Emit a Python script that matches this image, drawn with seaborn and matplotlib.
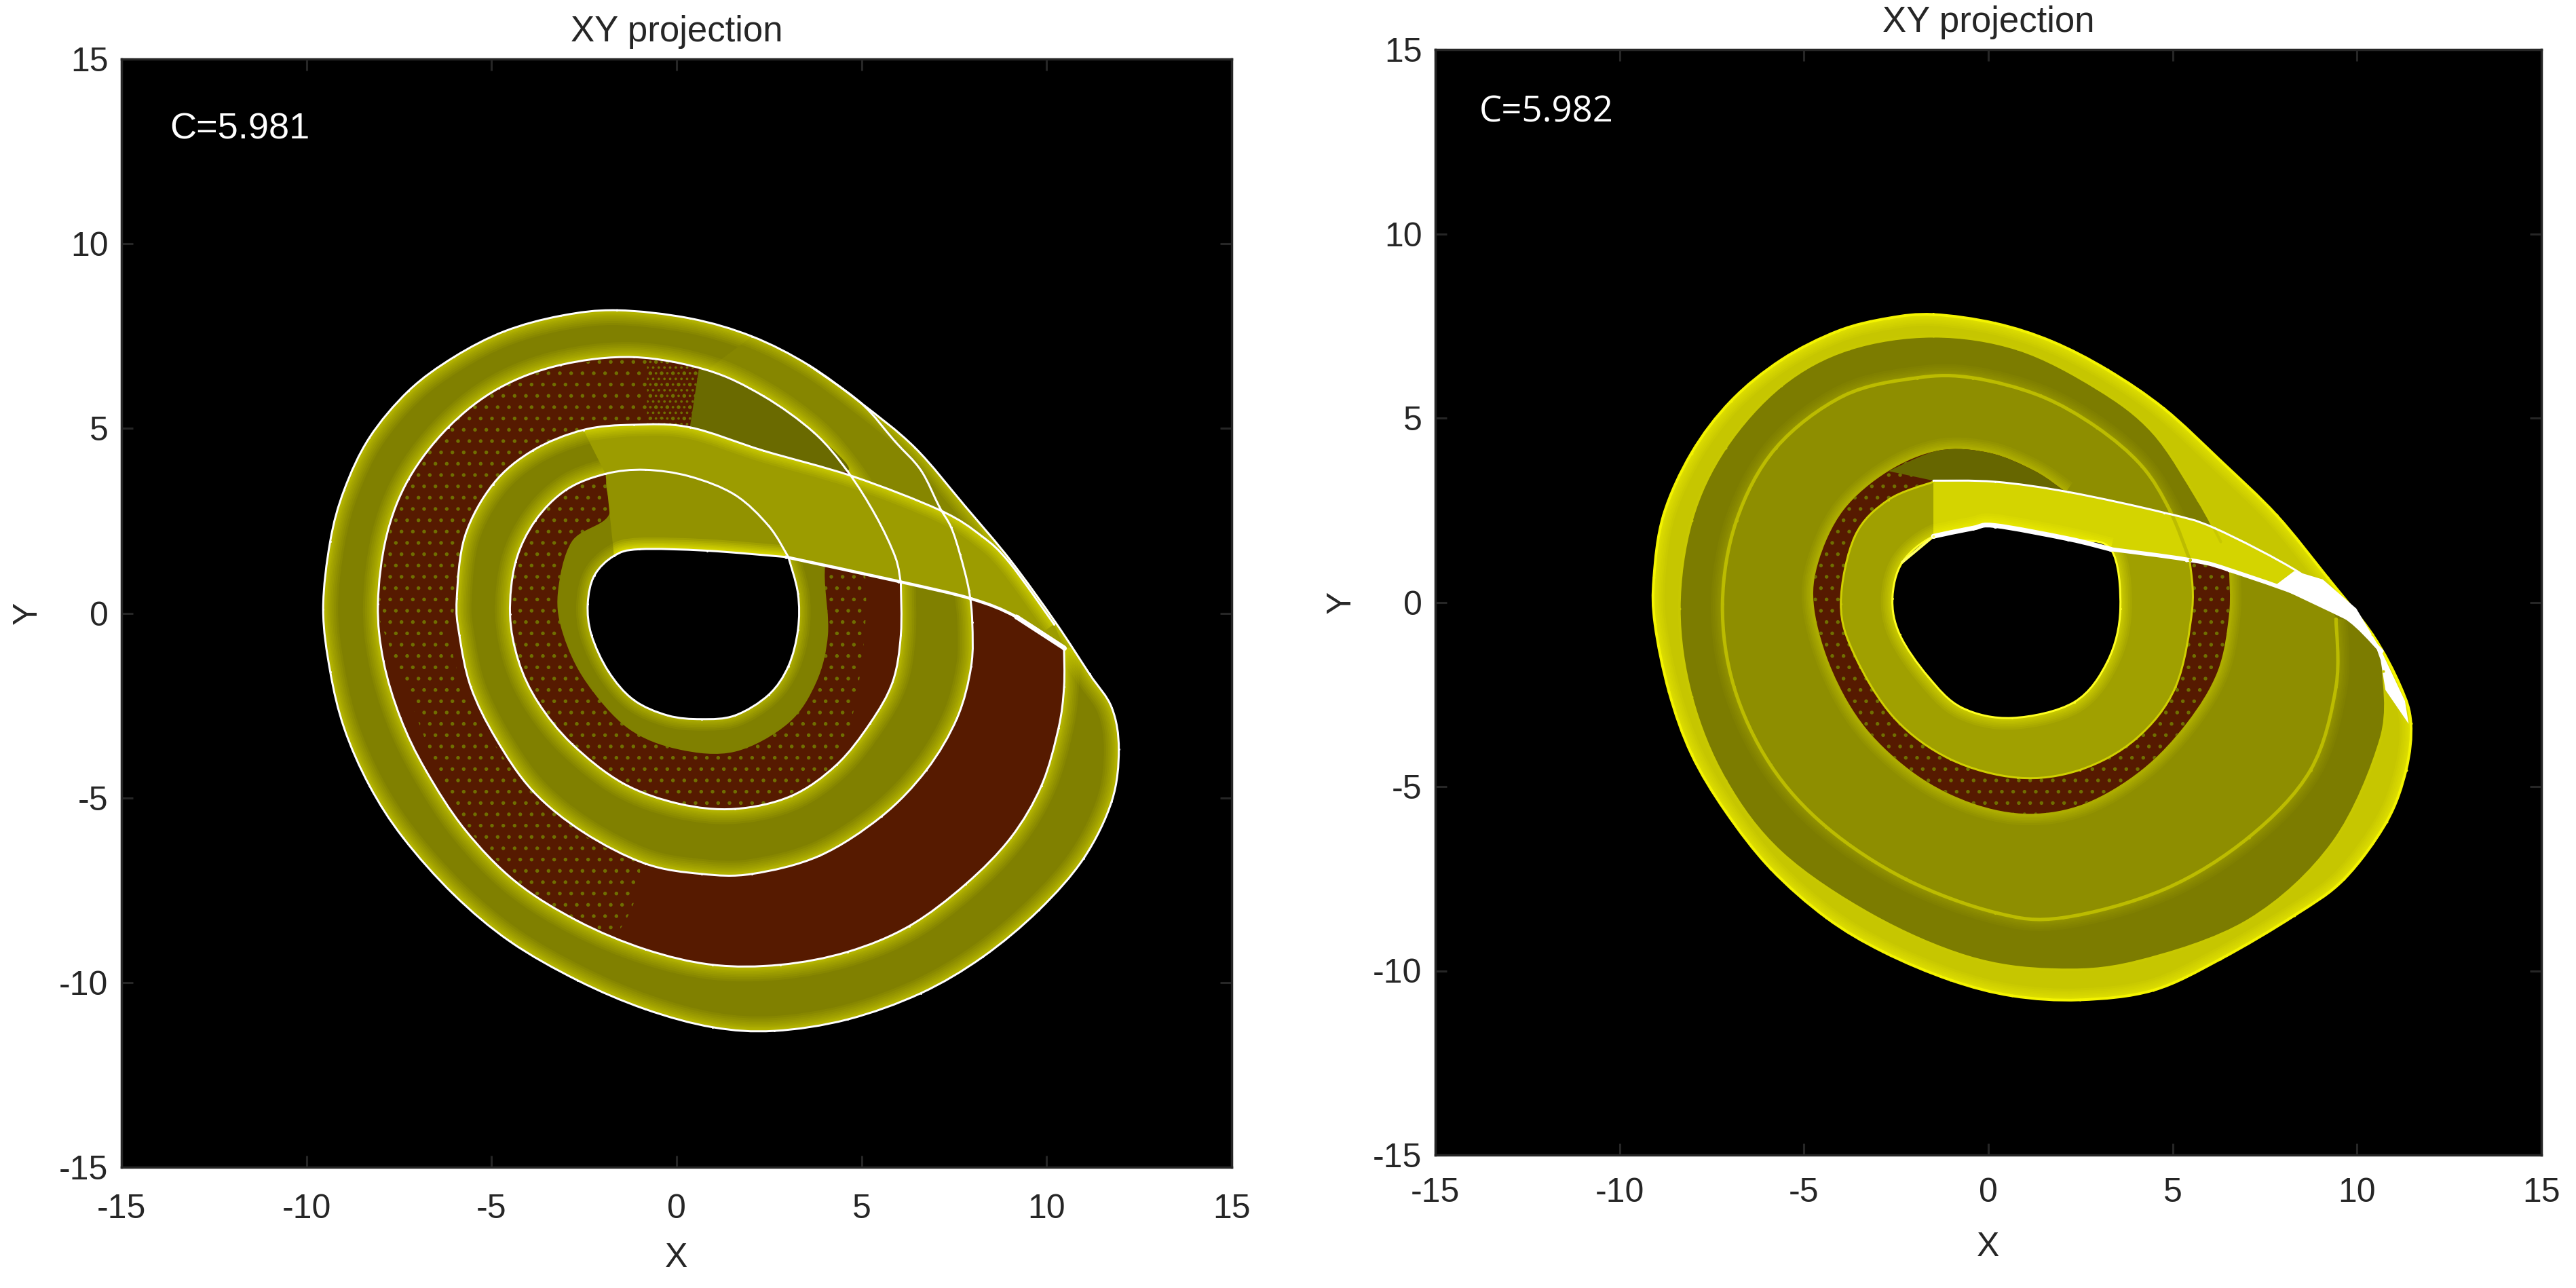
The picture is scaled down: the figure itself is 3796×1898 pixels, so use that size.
import matplotlib
matplotlib.use("Agg")
import matplotlib.pyplot as plt
from matplotlib.patches import PathPatch
from matplotlib.path import Path
import numpy as np
import seaborn as sns

ticks = [-15, -10, -5, 0, 5, 10, 15]

# left panel, C=5.981: edges of the folded band
left_outer_x = [-1.61, 0.36, 2.04, 3.56, 4.97, 6.44, 7.81, 9.03, 10.24, 11.16, 11.76, 11.95, 11.76, 11.00, 9.79, 8.27, 6.60, 4.62, 2.64, 0.97, -0.85, -2.68, -4.50, -6.02, -7.39, -8.30, -8.98, -9.36, -9.55, -9.36, -8.98, -8.30, -7.24, -6.02, -4.65, -3.13, -1.61]
left_outer_y = [8.20, 7.98, 7.49, 6.72, 5.70, 4.48, 2.88, 1.42, -0.25, -1.65, -2.56, -3.69, -5.09, -6.64, -8.04, -9.31, -10.29, -11.00, -11.31, -11.21, -10.72, -9.94, -8.89, -7.62, -6.08, -4.67, -3.12, -1.58, 0.11, 1.94, 3.34, 4.75, 6.02, 6.93, 7.63, 8.05, 8.20]
left_c1_x = [10.47, 10.47, 10.32, 9.86, 9.03, 7.81, 6.29, 4.62, 2.80, 0.97, -0.85, -2.68, -4.35, -5.72, -6.78, -7.46, -7.92, -8.07, -7.84, -7.24, -6.17, -4.80, -3.13, -1.16, 0.82, 2.34, 3.71, 4.62, 5.38, 5.91, 6.06]
left_c1_y = [-0.94, -2.00, -3.12, -4.67, -6.08, -7.34, -8.47, -9.17, -9.52, -9.52, -9.10, -8.33, -7.27, -5.86, -4.25, -2.84, -1.30, 0.25, 2.08, 3.63, 5.03, 6.09, 6.72, 6.93, 6.58, 5.88, 4.89, 3.84, 2.64, 1.52, 0.81]
left_c2_x = [3.56, 4.97, 5.90, 6.60, 7.10, 7.42, 7.66, 7.90, 7.99, 7.96, 7.58, 6.75, 5.53, 3.86, 2.04, 0.67, -0.85, -2.52, -3.89, -4.88, -5.56, -5.87, -5.94, -5.72, -4.96, -3.89, -2.52, -1.16, 0.36, 2.34, 4.77, 7.13, 8.24, 9.00, 10.20]
left_c2_y = [6.72, 5.70, 4.65, 3.87, 2.88, 2.32, 1.59, 0.62, -0.25, -1.44, -2.84, -4.25, -5.51, -6.57, -7.06, -7.06, -6.78, -5.93, -4.81, -3.40, -2.00, -0.59, 0.39, 2.08, 3.49, 4.40, 4.96, 5.10, 5.03, 4.40, 3.70, 2.78, 2.09, 1.36, -0.30]
left_c3_x = [6.06, 6.06, 5.84, 5.23, 4.32, 3.10, 1.58, 0.06, -1.46, -2.83, -3.74, -4.27, -4.50, -4.35, -3.82, -2.98, -1.92, -0.85, 0.36, 1.58, 2.49, 3.02]
left_c3_y = [0.81, -0.59, -1.86, -2.98, -4.11, -4.95, -5.30, -5.16, -4.60, -3.54, -2.42, -1.30, -0.03, 1.38, 2.50, 3.34, 3.77, 3.88, 3.70, 3.20, 2.36, 1.52]
left_c4_x = [3.02, 3.28, 3.28, 3.02, 2.49, 1.58, 0.67, -0.24, -1.16, -1.84, -2.30, -2.40, -2.22, -1.69, -1.00, 0.82, 2.95]
left_c4_y = [1.52, 0.53, -0.45, -1.44, -2.21, -2.77, -2.87, -2.77, -2.35, -1.58, -0.59, 0.25, 1.02, 1.55, 1.73, 1.69, 1.52]
left_fold_x = [2.95, 5.99, 7.96, 9.18, 10.47]
left_fold_y = [1.52, 0.86, 0.39, -0.10, -0.94]
left_inner_x = [4.01, 4.01, 4.09, 3.78, 3.02, 1.58, 0.06, -1.31, -2.45, -3.06, -3.21, -2.83, -1.84, -1.76, 0.36, 1.58, 2.49, 3.02]
left_inner_y = [1.29, 0.81, -0.59, -1.86, -2.98, -3.75, -3.69, -3.12, -1.86, -0.59, 0.53, 1.94, 2.64, 3.77, 3.70, 3.20, 2.36, 1.52]
left_speck_x = [-8.1, -7.3, -4.8, -1.0, 0.6, 0.6, -1.2, -5.9, -5.0, -2.5, -1.0, -1.8, -3.5, -6.0]
left_speck_y = [0.0, 3.6, 6.1, 7.0, 6.7, 4.9, 5.0, 0.4, -3.4, -6.0, -6.9, -8.8, -8.0, -5.5]
left_fade_x = [-0.8, 0.6, 0.6, -0.8]
left_fade_y = [7.1, 6.9, 4.9, 5.0]
left_speck4_x = [-5.0, -5.0, -1.0, 3.0, 4.7, 5.0, 3.0, -1.9]
left_speck4_y = [4.0, -4.0, -6.0, -6.0, -3.0, 1.5, 1.5, 3.9]
left_wedge_x = [2.04, 3.56, 4.97, 6.44, 7.81, 8.24, 7.13, 4.77, 4.62, 3.71, 2.34, 0.82]
left_wedge_y = [7.49, 6.72, 5.70, 4.48, 2.88, 2.09, 2.78, 3.70, 3.84, 4.89, 5.88, 6.58]
left_dark_x = [0.6, 0.82, 2.34, 3.71, 4.62, 2.34, 0.36]
left_dark_y = [6.6, 6.58, 5.88, 4.89, 3.84, 4.40, 5.03]

# right panel, C=5.982
right_outer_x = [-1.49, 0.19, 1.72, 3.24, 4.77, 6.30, 7.82, 9.20, 10.42, 11.18, 11.46, 11.33, 10.80, 9.65, 8.30, 6.30, 4.47, 2.48, 0.65, -1.03, -2.86, -4.39, -5.91, -7.13, -8.05, -8.66, -9.04, -9.07, -8.81, -8.05, -6.98, -5.61, -4.08, -2.71, -1.49]
right_outer_y = [7.81, 7.57, 7.08, 6.30, 5.25, 3.84, 2.36, 0.67, -0.88, -2.29, -3.28, -4.55, -5.96, -7.51, -8.50, -9.68, -10.53, -10.79, -10.68, -10.25, -9.48, -8.56, -7.22, -5.67, -4.12, -2.43, -0.60, 0.67, 2.36, 4.05, 5.46, 6.58, 7.36, 7.71, 7.81]
right_r1_x = [10.72, 10.65, 9.35, 7.06, 4.01, 1.72, -0.57, -3.16, -5.61, -7.13, -8.05, -8.38, -8.05, -7.13, -5.61, -3.78, -1.49, 0.80, 2.94, 4.47, 5.69, 6.30]
right_r1_y = [-1.87, -3.70, -6.52, -8.63, -9.76, -9.97, -9.62, -8.49, -6.80, -4.83, -2.57, -0.18, 2.22, 4.19, 5.88, 6.87, 7.22, 6.87, 5.81, 4.61, 2.78, 1.65]
right_r2_x = [9.43, 9.43, 8.74, 7.06, 4.77, 2.02, 0.19, -2.25, -4.39, -5.91, -6.90, -7.21, -6.83, -5.76, -3.93, -1.94, -0.42, 1.41, 2.94, 4.16, 4.92, 5.46]
right_r2_y = [-0.46, -2.29, -4.55, -6.38, -7.79, -8.56, -8.42, -7.51, -6.10, -4.41, -2.29, -0.04, 2.22, 4.19, 5.60, 6.09, 6.09, 5.60, 4.75, 3.70, 2.50, 1.16]
right_red_x = [6.53, 6.53, 6.22, 5.38, 4.16, 2.63, 1.11, -0.42, -1.94, -3.32, -4.23, -4.72, -4.61, -3.93, -2.71, -1.33, 0.04, 1.26, 2.10]
right_red_y = [0.88, -0.32, -1.87, -3.28, -4.55, -5.46, -5.74, -5.46, -4.69, -3.42, -1.87, -0.18, 1.09, 2.50, 3.56, 4.12, 4.05, 3.56, 2.99]
right_inner_x = [5.46, 5.53, 5.08, 4.01, 2.48, 0.80, -1.03, -2.55, -3.62, -4.00, -3.62, -2.71, -1.49]
right_inner_y = [1.16, -0.18, -2.29, -3.70, -4.55, -4.76, -4.26, -3.14, -1.45, -0.04, 1.79, 2.78, 3.27]
right_strip_x = [-1.49, 0.19, 2.18, 4.77, 6.14, 8.43, 9.35]
right_strip_y = [3.30, 3.27, 2.99, 2.43, 2.01, 0.81, -0.04]
right_hole_x = [3.32, 3.58, 3.24, 2.33, 0.65, -0.72, -1.64, -2.40, -2.60, -2.33, -1.49, -0.42, 0.19, 2.18, 3.32]
right_hole_y = [1.44, -0.18, -1.59, -2.71, -3.14, -2.86, -2.01, -0.88, 0.10, 1.09, 1.79, 2.01, 2.08, 1.72, 1.44]
right_fold_x = [3.32, 5.38, 6.53, 9.35, 10.65]
right_fold_y = [1.44, 1.16, 0.88, -0.18, -1.31]
right_tip_x = [7.77, 8.30, 9.07, 9.98, 10.64, 11.30, 11.40, 10.77, 10.64, 10.47, 10.07, 9.33]
right_tip_y = [0.45, 0.85, 0.62, -0.17, -1.28, -2.68, -3.30, -2.38, -1.57, -1.09, -0.65, -0.29]

OLIVE = "#808000"
BRIGHT = "#9c9c00"
DARK = "#6a6a00"
RED = "#561a00"
SPECK = "#6f6f00"
EDGE = "#262626"

GLOW_WIDE = (44, 38, 32, 27, 22, 18, 14, 11, 8)
GLOW_THIN = (34, 28, 23, 18, 14, 10, 7)

sns.set_theme(style="ticks")
plt.rcParams["font.family"] = ["Liberation Sans", "DejaVu Sans"]
plt.rcParams["axes.unicode_minus"] = False
plt.rcParams["hatch.linewidth"] = 1.5


def bezier(x, y):
    # curve through the read points, drawn by the path renderer
    p = np.column_stack([x, y])
    n = len(p)
    closed = n > 3 and np.allclose(p[0], p[-1])
    out = []
    for i in range(n - 1):
        if closed:
            p0, p3 = p[(i - 1) % (n - 1)], p[(i + 2) % (n - 1)]
        else:
            p0, p3 = p[max(i - 1, 0)], p[min(i + 2, n - 1)]
        out += [p[i] + (p[i + 1] - p0) / 6, p[i + 1] - (p3 - p[i]) / 6, p[i + 1]]
    return p[0], out


def shape(*segments, close=True):
    verts, codes = [], []
    for k, (x, y) in enumerate(segments):
        start, out = bezier(x, y)
        verts.append(start)
        codes.append(Path.MOVETO if k == 0 else Path.LINETO)
        verts += out
        codes += [Path.CURVE4] * len(out)
    if close:
        verts.append(verts[0])
        codes.append(Path.CLOSEPOLY)
    return Path(verts, codes)


def fill(ax, path, color):
    return ax.add_patch(PathPatch(path, facecolor=color, edgecolor="none", linewidth=0))


def glow(ax, path, clip, widths=GLOW_WIDE, alpha=0.06):
    for w in widths:
        p = ax.add_patch(PathPatch(path, facecolor="none", edgecolor="#ffff00", linewidth=w * 0.72,
                                   alpha=alpha, capstyle="butt"))
        p.set_clip_path(clip)


def specks(ax, x, y, clip, hatch="."):
    p = ax.add_patch(PathPatch(shape((x, y)), facecolor="none", edgecolor=SPECK, linewidth=0, hatch=hatch))
    p.set_clip_path(clip)


def curve(ax, x, y, color="white", px=3.0):
    ax.add_patch(PathPatch(shape((x, y), close=False), facecolor="none", edgecolor=color,
                           linewidth=px * 0.72, zorder=3, capstyle="round"))
    sns.scatterplot(x=x, y=y, color=color, s=(px * 0.72) ** 2, linewidth=0, ax=ax, zorder=4, legend=False)


def style(ax, title, label, lx, ly, family, xpad, label_pad, size):
    ax.set_facecolor("black")
    ax.set_xlim(-15, 15)
    ax.set_ylim(-15, 15)
    ax.set_xticks(ticks)
    ax.set_yticks(ticks)
    ax.tick_params(direction="in", length=12, width=2.2, color=EDGE, labelcolor=EDGE,
                   labelsize=36, top=True, right=True, pad=14)
    ax.tick_params(axis="x", pad=xpad)
    for s in ax.spines.values():
        s.set_visible(True)
        s.set_color(EDGE)
        s.set_linewidth(2.5)
    ax.set_title(title, fontsize=38, color=EDGE, pad=19)
    ax.set_xlabel("X", fontsize=36, color=EDGE, labelpad=label_pad)
    ax.set_ylabel("Y", fontsize=36, color=EDGE, labelpad=17)
    ax.text(lx, ly, label, color="white", fontsize=size, va="center", family=family)


def draw_left(ax):
    outer = fill(ax, shape((left_outer_x, left_outer_y)), OLIVE)
    glow(ax, shape((left_outer_x, left_outer_y)), outer)
    wedge = fill(ax, shape((left_wedge_x, left_wedge_y)), "#868600")
    glow(ax, shape((left_outer_x, left_outer_y)), wedge, GLOW_THIN)
    glow(ax, shape((left_c1_x, left_c1_y), close=False), outer)

    # second turn, dark red with specks
    ring2 = fill(ax, shape((left_c1_x, left_c1_y), (left_fold_x[1:], left_fold_y[1:])), RED)
    specks(ax, left_speck_x, left_speck_y, ring2)
    specks(ax, left_fade_x, left_fade_y, ring2, "..")
    fill(ax, shape((left_dark_x, left_dark_y)), DARK)

    # third turn
    ring3 = fill(ax, shape((left_c2_x[7:31], left_c2_y[7:31]), (left_c1_x[-1:], left_c1_y[-1:])), OLIVE)
    glow(ax, shape((left_c2_x[7:31], left_c2_y[7:31]), close=False), ring3)
    glow(ax, shape((left_c3_x, left_c3_y), close=False), ring3)

    # fourth turn, red with olive towards the hole
    ring4 = fill(ax, shape((left_c3_x, left_c3_y), (left_fold_x[:2], left_fold_y[:2])), RED)
    specks(ax, left_speck4_x, left_speck4_y, ring4)
    inner = fill(ax, shape((left_inner_x, left_inner_y)), OLIVE)
    glow(ax, shape((left_c4_x, left_c4_y), close=False), inner, GLOW_THIN)

    # brighter strip coming out of the fold
    strip = fill(ax, shape((left_c2_x[26:], left_c2_y[26:]), (left_fold_x[::-1], left_fold_y[::-1]),
                           (left_c3_x[:15:-1], left_c3_y[:15:-1])), BRIGHT)
    glow(ax, shape((left_c2_x[26:], left_c2_y[26:]), close=False), strip, GLOW_THIN, 0.08)
    top = fill(ax, shape((left_c3_x[16:], left_c3_y[16:]), (left_c4_x[:12:-1], left_c4_y[:12:-1])), "#929200")
    glow(ax, shape((left_c4_x[12:], left_c4_y[12:]), close=False), top, GLOW_THIN, 0.12)
    fill(ax, shape((left_c4_x, left_c4_y)), "black")

    curve(ax, left_outer_x, left_outer_y)
    curve(ax, left_c1_x, left_c1_y)
    curve(ax, left_c2_x, left_c2_y)
    curve(ax, left_c3_x, left_c3_y)
    curve(ax, left_c4_x, left_c4_y)
    curve(ax, left_fold_x, left_fold_y, px=4.5)
    curve(ax, left_fold_x[-2:], left_fold_y[-2:], px=7)


def draw_right(ax):
    outer = fill(ax, shape((right_outer_x, right_outer_y)), "#c6c600")
    glow(ax, shape((right_outer_x, right_outer_y)), outer, GLOW_THIN, 0.08)

    band1 = fill(ax, shape((right_r1_x, right_r1_y), (right_fold_x[2:], right_fold_y[2:])), "#7c7c00")
    glow(ax, shape((right_r2_x, right_r2_y), close=False), band1, GLOW_THIN, 0.03)

    band2 = fill(ax, shape((right_r2_x, right_r2_y), (right_fold_x[2:4], right_fold_y[2:4])), "#8e8e00")
    glow(ax, shape((right_red_x, right_red_y), close=False), band2, GLOW_THIN, 0.05)

    red = fill(ax, shape((right_red_x, right_red_y), (right_fold_x[:3], right_fold_y[:3])), RED)
    specks(ax, right_red_x, right_red_y, red)
    fill(ax, shape((right_red_x[14:], right_red_y[14:]), (right_strip_x[2::-1], right_strip_y[2::-1])), "#666600")

    inner = fill(ax, shape((right_inner_x, right_inner_y), (right_fold_x[:2], right_fold_y[:2])), "#a0a000")
    glow(ax, shape((right_hole_x, right_hole_y)), inner, GLOW_THIN, 0.08)

    strip = fill(ax, shape((right_strip_x, right_strip_y), (right_fold_x[::-1], right_fold_y[::-1]),
                           (right_hole_x[:-6:-1], right_hole_y[:-6:-1])), "#d4d400")
    glow(ax, shape((right_hole_x[:-6:-1], right_hole_y[:-6:-1]), close=False), strip, GLOW_THIN, 0.1)
    fill(ax, shape((right_hole_x, right_hole_y)), "black")

    curve(ax, right_r1_x, right_r1_y, color="#c8c800", px=4)
    curve(ax, right_r2_x, right_r2_y, color="#bcbc00", px=5)
    curve(ax, right_inner_x, right_inner_y, color="#d0d000", px=3)
    curve(ax, right_outer_x, right_outer_y, color="#f4f400", px=4)
    curve(ax, right_hole_x, right_hole_y, color="#ffff20", px=3)
    curve(ax, right_hole_x[:-6:-1], right_hole_y[:-6:-1], px=7)
    curve(ax, right_hole_x[-5:-7:-1], right_hole_y[-5:-7:-1], color="#ffff60", px=4)
    curve(ax, right_strip_x, right_strip_y, px=3)
    curve(ax, right_fold_x, right_fold_y, px=6)
    ax.fill(right_tip_x, right_tip_y, facecolor="white", edgecolor="none", zorder=3)


W, H = 3796, 1898
fig = plt.figure(figsize=(W / 100, H / 100), dpi=100, facecolor="white")
ax1 = fig.add_axes([179 / W, 1 - 1720 / H, 1636 / W, 1633 / H])
ax2 = fig.add_axes([2115 / W, 1 - 1702 / H, 1630 / W, 1629 / H])

draw_left(ax1)
draw_right(ax2)
style(ax1, "XY projection", "C=5.981", -13.7, 13.1, "Liberation Sans", 28, 19, 39)
style(ax2, "XY projection", "C=5.982", -13.8, 13.3, "Open Sans", 24, 24, 38)

fig.savefig("out.png", dpi=100)
